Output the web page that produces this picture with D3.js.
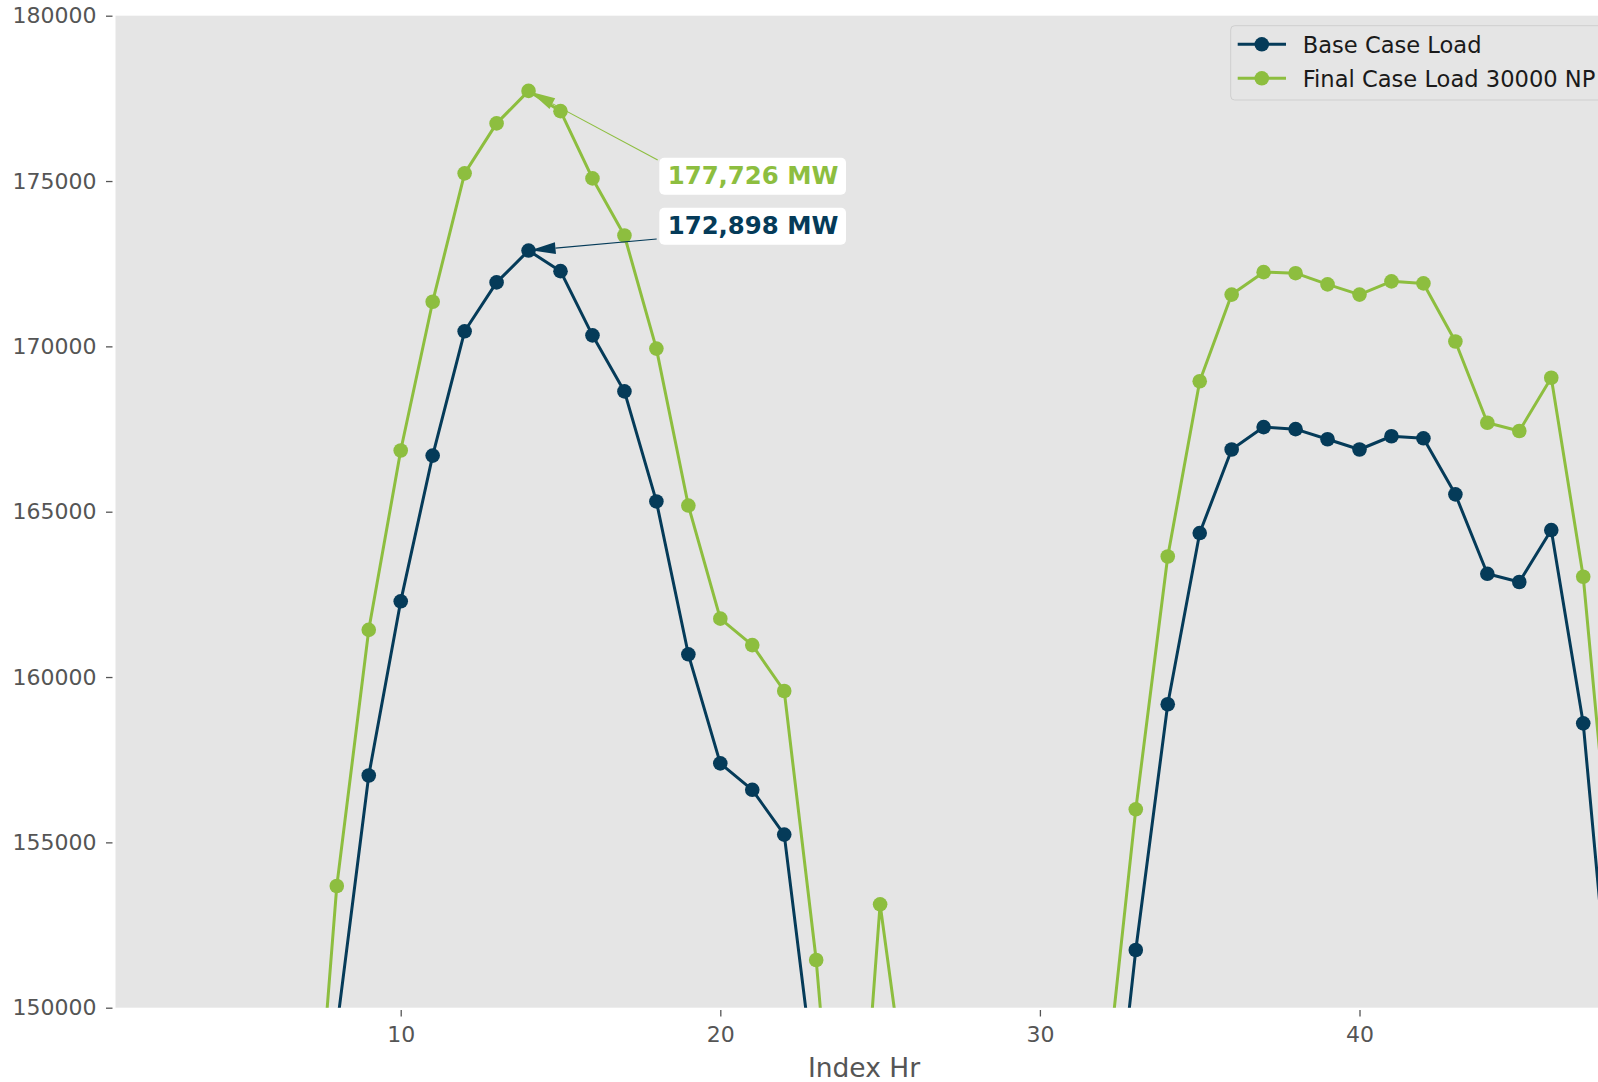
<!DOCTYPE html>
<html>
<head>
<meta charset="utf-8">
<script src="https://cdn.jsdelivr.net/npm/d3@7"></script>
<style>
  html, body { margin: 0; padding: 0; background: #ffffff; overflow: hidden; }
  svg { display: block; font-family: "DejaVu Sans", sans-serif; }
</style>
</head>
<body>
<svg id="chart" width="1598" height="1082"></svg>
<script>
// ---------------- data ----------------
const hours = d3.range(1, 49);
const baseLoad = [
  139500, 135800, 133500, 132200, 132000, 133600, 137000, 149389,
  157022, 162290, 166697, 170456, 171935, 172898, 172274, 170333,
  168638, 165310, 160687, 157390, 156589, 155235, 147422, 137000,
  148500, 141500, 136000, 133000, 131200, 130800, 133500, 143020,
  151745, 159177, 164354, 166881, 167559, 167497, 167190, 166881,
  167282, 167220, 165525, 163122, 162875, 164445, 158600, 148080
];
const finalLoad = [
  143600, 139900, 137600, 136300, 136100, 137700, 141413, 153680,
  161427, 166851, 171350, 175233, 176743, 177726, 177113, 175079,
  173353, 169932, 165186, 161766, 160965, 159578, 151442, 140200,
  153127, 146020, 140000, 137200, 135300, 135000, 137800, 147045,
  156000, 163646, 168946, 171566, 172244, 172213, 171874, 171566,
  171966, 171904, 170148, 167690, 167440, 169050, 163033, 152712
];
const seriesNames = ["Base Case Load", "Final Case Load 30000 NP"];
const yTicks = [150000, 155000, 160000, 165000, 170000, 175000, 180000];
const xTicks = [10, 20, 30, 40];
const peakLabels = ["177,726 MW", "172,898 MW"];
const peakHour = 14;
const xLabel = "Index Hr";

// ---------------- layout ----------------
const colors = ["#053b59", "#8dbe3f"];
const plot = { left: 115.5, right: 1612.5, top: 15.7, bottom: 1007.7 };

const svg = d3.select("#chart");
const x = d3.scaleLinear().domain([1.076, 47.916]).range([plot.left, plot.right]);
const y = d3.scaleLinear().domain([150000, 180000]).range([plot.bottom, plot.top]);

svg.append("rect")
  .attr("x", plot.left).attr("y", plot.top)
  .attr("width", plot.right - plot.left).attr("height", plot.bottom - plot.top)
  .attr("fill", "#e5e5e5");

svg.append("defs").append("clipPath").attr("id", "clip")
  .append("rect")
  .attr("x", plot.left).attr("y", plot.top)
  .attr("width", plot.right - plot.left).attr("height", plot.bottom - plot.top);

// axes
const yAxis = svg.append("g")
  .attr("transform", `translate(${plot.left - 3},0)`)
  .call(d3.axisLeft(y).tickValues(yTicks).tickFormat(d3.format("d")).tickSize(6.5).tickPadding(9.5));
const xAxis = svg.append("g")
  .attr("transform", `translate(0,${plot.bottom + 2.3})`)
  .call(d3.axisBottom(x).tickValues(xTicks).tickFormat(d3.format("d")).tickSize(6.5).tickPadding(9.5));
[yAxis, xAxis].forEach(g => {
  g.select(".domain").remove();
  g.selectAll(".tick line").attr("stroke", "#555555").attr("stroke-width", 1.3);
  g.selectAll(".tick text").attr("fill", "#555555")
    .style("font-family", "'DejaVu Sans', sans-serif").style("font-size", "22px");
});

svg.append("text")
  .attr("x", (plot.left + plot.right) / 2).attr("y", 1077)
  .attr("text-anchor", "middle")
  .attr("fill", "#555555")
  .style("font-size", "26.5px")
  .text(xLabel);

// series
const data = [baseLoad, finalLoad];
const gPlot = svg.append("g").attr("clip-path", "url(#clip)");
const line = d3.line().x((d, i) => x(hours[i])).y(d => y(d));

[1, 0].forEach(k => {
  const g = gPlot.append("g");
  g.append("path").datum(data[k])
    .attr("d", line)
    .attr("fill", "none")
    .attr("stroke", colors[k])
    .attr("stroke-width", 3)
    .attr("stroke-linejoin", "round");
  g.selectAll("circle").data(data[k]).enter().append("circle")
    .attr("cx", (d, i) => x(hours[i]))
    .attr("cy", d => y(d))
    .attr("r", 7.3)
    .attr("fill", colors[k]);
});

// annotations
const idx = hours.indexOf(peakHour);
const ann = [
  { val: finalLoad[idx], label: peakLabels[0], color: colors[1], box: [659.3, 157.7], from: [657.7, 160] },
  { val: baseLoad[idx], label: peakLabels[1], color: colors[0], box: [659.3, 207.7], from: [656.7, 239] }
];
ann.forEach(a => {
  const px = x(peakHour), py = y(a.val);
  const dx = a.from[0] - px, dy = a.from[1] - py;
  const len = Math.sqrt(dx * dx + dy * dy);
  const ux = dx / len, uy = dy / len;
  const tipX = px + ux * 2, tipY = py + uy * 2;
  const hl = 25, hw = 6;
  const bx = tipX + ux * hl, by = tipY + uy * hl;
  svg.append("line")
    .attr("x1", a.from[0]).attr("y1", a.from[1])
    .attr("x2", bx).attr("y2", by)
    .attr("stroke", a.color).attr("stroke-width", 1.1);
  svg.append("path")
    .attr("d", `M${tipX},${tipY} L${bx - uy * hw},${by + ux * hw} L${bx + uy * hw},${by - ux * hw} Z`)
    .attr("fill", a.color);
  svg.append("rect")
    .attr("x", a.box[0]).attr("y", a.box[1])
    .attr("width", 186.7).attr("height", 37)
    .attr("rx", 5).attr("ry", 5)
    .attr("fill", "#ffffff");
  svg.append("text")
    .attr("x", a.box[0] + 8.4).attr("y", a.box[1] + 26.6)
    .attr("fill", a.color)
    .style("font-size", "24.4px").style("font-weight", "bold")
    .text(a.label);
});

// legend
const leg = svg.append("g");
leg.append("rect")
  .attr("x", 1230.7).attr("y", 25.7)
  .attr("width", 420).attr("height", 74.3)
  .attr("rx", 4).attr("ry", 4)
  .attr("fill", "#e5e5e5").attr("stroke", "#cfcfcf").attr("stroke-width", 1);
seriesNames.forEach((name, k) => {
  const cy = 44.3 + k * 34;
  leg.append("line").attr("x1", 1237.7).attr("x2", 1286).attr("y1", cy).attr("y2", cy)
    .attr("stroke", colors[k]).attr("stroke-width", 3);
  leg.append("circle").attr("cx", 1261.8).attr("cy", cy).attr("r", 7.3).attr("fill", colors[k]);
  leg.append("text").attr("x", 1302.7).attr("y", cy + 8.3)
    .attr("fill", "#1a1a1a").style("font-size", "22.6px").text(name);
});
</script>
</body>
</html>
